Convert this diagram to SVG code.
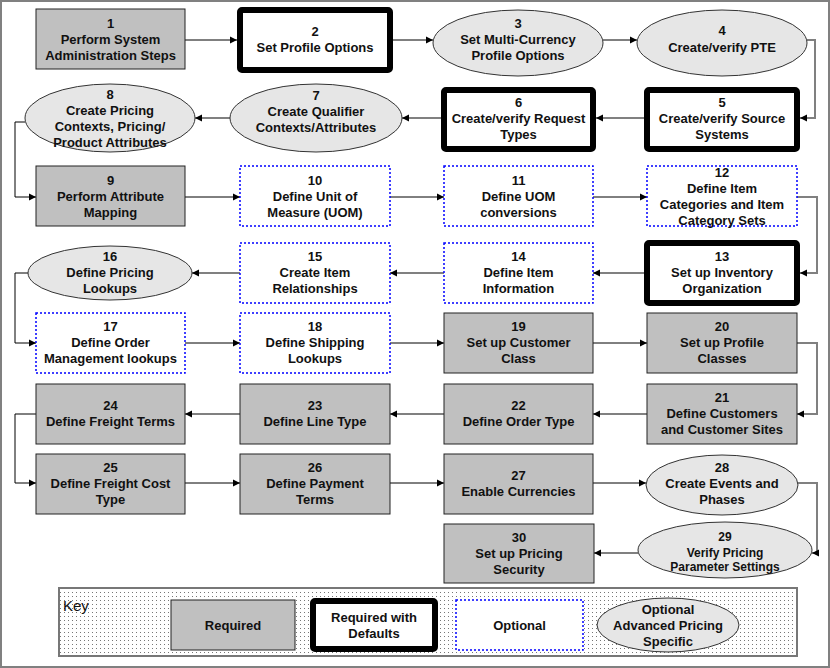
<svg xmlns="http://www.w3.org/2000/svg" width="830" height="668" viewBox="0 0 830 668">
<style>
.req{fill:#c0c0c0;stroke:#222;stroke-width:1}
.def{fill:#fff;stroke:#000;stroke-width:6}
.opt{fill:#fff;stroke:#0000ff;stroke-width:1.5;stroke-dasharray:2 2}
.adv{fill:#e6e6e6;stroke:#333;stroke-width:1}
text{font-family:"Liberation Sans",Arial,sans-serif;font-weight:bold;font-size:13px;text-anchor:middle;fill:#111}
.cb{stroke:#000;stroke-width:1;fill:none;marker-end:url(#ah)}
.cg{stroke:#808080;stroke-width:2;fill:none;marker-end:url(#ah)}
.key{font-weight:normal;font-size:15px;text-anchor:start}
</style>
<defs>
<marker id="ah" markerUnits="userSpaceOnUse" markerWidth="8" markerHeight="8" refX="7" refY="4" orient="auto">
<path d="M0,0.5 L7,4 L0,7.5 Z" fill="#000"/>
</marker>
<pattern id="dots" width="4" height="4" patternUnits="userSpaceOnUse">
<rect width="4" height="4" fill="#fff"/>
<rect width="1" height="1" fill="#777"/>
</pattern>
</defs>
<rect x="1" y="1" width="828" height="666" fill="#fff" stroke="#808080" stroke-width="2"/>

<g id="connectors">
<path class="cb" d="M185,40 H237"/>
<path class="cb" d="M393,40 H433"/>
<path class="cb" d="M603,40 H637"/>
<path class="cg" d="M807,40 H815 V118 H800"/>
<path class="cg" d="M644,118 H596"/>
<path class="cg" d="M441,118 H402"/>
<path class="cg" d="M230,118 H195"/>
<path class="cb" d="M25,122 H15 V197 H36"/>
<path class="cb" d="M185,197 H240"/>
<path class="cb" d="M390,197 H444"/>
<path class="cb" d="M593,197 H647"/>
<path class="cg" d="M797,197 H817 V273 H800"/>
<path class="cg" d="M644,273 H593"/>
<path class="cg" d="M444,273 H390"/>
<path class="cg" d="M240,273 H192"/>
<path class="cb" d="M28,273 H15 V343 H36"/>
<path class="cb" d="M185,343 H240"/>
<path class="cb" d="M390,343 H444"/>
<path class="cb" d="M593,343 H647"/>
<path class="cg" d="M797,343 H817 V414 H797"/>
<path class="cg" d="M647,414 H593"/>
<path class="cg" d="M444,414 H390"/>
<path class="cg" d="M240,414 H185"/>
<path class="cb" d="M36,414 H15 V483 H36"/>
<path class="cb" d="M185,483 H240"/>
<path class="cb" d="M390,483 H444"/>
<path class="cb" d="M593,483 H646"/>
<path class="cg" d="M798,483 H817 V553 H812"/>
<path class="cg" d="M638,553 H594"/>
</g>

<g id="n1"><rect class="req" x="36" y="9" width="149" height="60"/>
<text x="110.5" y="28">1</text><text x="110.5" y="44">Perform System</text><text x="110.5" y="60">Administration Steps</text></g>
<g id="n2"><rect class="def" x="240" y="10" width="150" height="60" rx="2"/>
<text x="315" y="36">2</text><text x="315" y="52">Set Profile Options</text></g>
<g id="n3"><ellipse class="adv" cx="518" cy="43" rx="85" ry="33"/>
<text x="518" y="28">3</text><text x="518" y="44">Set Multi-Currency</text><text x="518" y="60">Profile Options</text></g>
<g id="n4"><ellipse class="adv" cx="722" cy="43" rx="85" ry="33"/>
<text x="722" y="35">4</text><text x="722" y="52">Create/verify PTE</text></g>

<g id="n5"><rect class="def" x="647" y="90" width="150" height="59" rx="2"/>
<text x="722" y="107">5</text><text x="722" y="123">Create/verify Source</text><text x="722" y="139">Systems</text></g>
<g id="n6"><rect class="def" x="444" y="90" width="149" height="59" rx="2"/>
<text x="518.5" y="107">6</text><text x="518.5" y="123">Create/verify Request</text><text x="518.5" y="139">Types</text></g>
<g id="n7"><ellipse class="adv" cx="316" cy="118" rx="86" ry="34"/>
<text x="316" y="100">7</text><text x="316" y="116">Create Qualifier</text><text x="316" y="132">Contexts/Attributes</text></g>
<g id="n8"><ellipse class="adv" cx="110" cy="118" rx="85" ry="34"/>
<text x="110" y="99">8</text><text x="110" y="115">Create Pricing</text><text x="110" y="131">Contexts, Pricing/</text><text x="110" y="147">Product Attributes</text></g>

<g id="n9"><rect class="req" x="36" y="166" width="149" height="60"/>
<text x="110.5" y="185">9</text><text x="110.5" y="201">Perform Attribute</text><text x="110.5" y="217">Mapping</text></g>
<g id="n10"><rect class="opt" x="240" y="166" width="150" height="60"/>
<text x="315" y="185">10</text><text x="315" y="201">Define Unit of</text><text x="315" y="217">Measure (UOM)</text></g>
<g id="n11"><rect class="opt" x="444" y="166" width="149" height="60"/>
<text x="518.5" y="185">11</text><text x="518.5" y="201">Define UOM</text><text x="518.5" y="217">conversions</text></g>
<g id="n12"><rect class="opt" x="647" y="166" width="150" height="60"/>
<text x="722" y="177">12</text><text x="722" y="193">Define Item</text><text x="722" y="209">Categories and Item</text><text x="722" y="225">Category Sets</text></g>

<g id="n13"><rect class="def" x="647" y="243" width="150" height="60" rx="2"/>
<text x="722" y="261">13</text><text x="722" y="277">Set up Inventory</text><text x="722" y="293">Organization</text></g>
<g id="n14"><rect class="opt" x="444" y="243" width="149" height="60"/>
<text x="518.5" y="261">14</text><text x="518.5" y="277">Define Item</text><text x="518.5" y="293">Information</text></g>
<g id="n15"><rect class="opt" x="240" y="243" width="150" height="60"/>
<text x="315" y="261">15</text><text x="315" y="277">Create Item</text><text x="315" y="293">Relationships</text></g>
<g id="n16"><ellipse class="adv" cx="110" cy="273" rx="82" ry="27"/>
<text x="110" y="261">16</text><text x="110" y="277">Define Pricing</text><text x="110" y="293">Lookups</text></g>

<g id="n17"><rect class="opt" x="36" y="313" width="149" height="60"/>
<text x="110.5" y="331">17</text><text x="110.5" y="347">Define Order</text><text x="110.5" y="363">Management lookups</text></g>
<g id="n18"><rect class="opt" x="240" y="313" width="150" height="60"/>
<text x="315" y="331">18</text><text x="315" y="347">Define Shipping</text><text x="315" y="363">Lookups</text></g>
<g id="n19"><rect class="req" x="444" y="313" width="149" height="60"/>
<text x="518.5" y="331">19</text><text x="518.5" y="347">Set up Customer</text><text x="518.5" y="363">Class</text></g>
<g id="n20"><rect class="req" x="647" y="313" width="150" height="60"/>
<text x="722" y="331">20</text><text x="722" y="347">Set up Profile</text><text x="722" y="363">Classes</text></g>

<g id="n21"><rect class="req" x="647" y="384" width="150" height="60"/>
<text x="722" y="402">21</text><text x="722" y="418">Define Customers</text><text x="722" y="434">and Customer Sites</text></g>
<g id="n22"><rect class="req" x="444" y="384" width="149" height="60"/>
<text x="518.5" y="410">22</text><text x="518.5" y="426">Define Order Type</text></g>
<g id="n23"><rect class="req" x="240" y="384" width="150" height="60"/>
<text x="315" y="410">23</text><text x="315" y="426">Define Line Type</text></g>
<g id="n24"><rect class="req" x="36" y="384" width="149" height="60"/>
<text x="110.5" y="410">24</text><text x="110.5" y="426">Define Freight Terms</text></g>

<g id="n25"><rect class="req" x="36" y="454" width="149" height="60"/>
<text x="110.5" y="472">25</text><text x="110.5" y="488">Define Freight Cost</text><text x="110.5" y="504">Type</text></g>
<g id="n26"><rect class="req" x="240" y="454" width="150" height="60"/>
<text x="315" y="472">26</text><text x="315" y="488">Define Payment</text><text x="315" y="504">Terms</text></g>
<g id="n27"><rect class="req" x="444" y="454" width="149" height="60"/>
<text x="518.5" y="480">27</text><text x="518.5" y="496">Enable Currencies</text></g>
<g id="n28"><ellipse class="adv" cx="722" cy="485" rx="76" ry="30"/>
<text x="722" y="472">28</text><text x="722" y="488">Create Events and</text><text x="722" y="504">Phases</text></g>

<g id="n29"><ellipse class="adv" cx="725" cy="550" rx="87" ry="28"/>
<text x="725" y="541" style="font-size:12px">29</text><text x="725" y="557" style="font-size:12px">Verify Pricing</text><text x="725" y="571" style="font-size:12px">Parameter Settings</text></g>
<g id="n30"><rect class="req" x="444" y="524" width="150" height="59"/>
<text x="519" y="542">30</text><text x="519" y="558">Set up Pricing</text><text x="519" y="574">Security</text></g>

<g id="key">
<rect x="59" y="588" width="738" height="68" fill="url(#dots)" stroke="#777" stroke-width="2"/>
<text class="key" x="63" y="611">Key</text>
<rect class="req" x="171" y="600" width="124" height="50"/>
<text x="233" y="630">Required</text>
<rect class="def" x="313" y="601" width="122" height="48" rx="2"/>
<text x="374" y="622">Required with</text><text x="374" y="638">Defaults</text>
<rect class="opt" x="456" y="600" width="127" height="50"/>
<text x="519.5" y="630">Optional</text>
<ellipse class="adv" cx="668" cy="625" rx="71" ry="27"/>
<text x="668" y="614">Optional</text><text x="668" y="630">Advanced Pricing</text><text x="668" y="646">Specific</text>
</g>
</svg>
